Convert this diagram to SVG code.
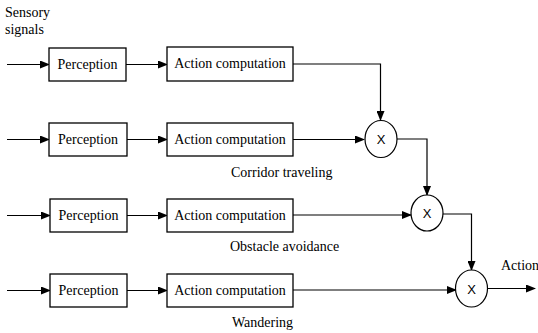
<svg xmlns="http://www.w3.org/2000/svg" width="538" height="333" viewBox="0 0 538 333">
<defs>
<marker id="ah" markerWidth="10" markerHeight="8" refX="9" refY="4" orient="auto" markerUnits="userSpaceOnUse">
<path d="M0,0 L10,4 L0,8 Z" fill="#000"/>
</marker>
<style>
.box{fill:#fff;stroke:#000;stroke-width:1.3}
.c{fill:#fff;stroke:#000;stroke-width:1.2}
.t{font-size:14px;fill:#000}
.x{font-family:'Liberation Sans','DejaVu Sans',sans-serif;font-size:13px;fill:#000;text-anchor:middle}
.m{text-anchor:middle}
.ln{fill:none;stroke:#000;stroke-width:1.2}
</style>
</defs>
<rect width="538" height="333" fill="#fff"/>
<g font-family="Liberation Serif, Times New Roman, serif">
<text class="t" x="5" y="17">Sensory</text>
<text class="t" x="5" y="34">signals</text>
</g>

<g id="connectors">
<path class="ln" d="M7,64.5 H49" marker-end="url(#ah)"/>
<path class="ln" d="M126,64.5 H167" marker-end="url(#ah)"/>
<path class="ln" d="M7,139.5 H49" marker-end="url(#ah)"/>
<path class="ln" d="M127,139.5 H167" marker-end="url(#ah)"/>
<path class="ln" d="M7,215.5 H50" marker-end="url(#ah)"/>
<path class="ln" d="M127,215.5 H167" marker-end="url(#ah)"/>
<path class="ln" d="M7,290.5 H50" marker-end="url(#ah)"/>
<path class="ln" d="M127,290.5 H167" marker-end="url(#ah)"/>
<path class="ln" d="M293,64 H380.5 V120" marker-end="url(#ah)"/>
<path class="ln" d="M293,139.5 H364" marker-end="url(#ah)"/>
<path class="ln" d="M397,139 H427 V195" marker-end="url(#ah)"/>
<path class="ln" d="M293,215 H411" marker-end="url(#ah)"/>
<path class="ln" d="M443,214 H471.5 V270" marker-end="url(#ah)"/>
<path class="ln" d="M293,290 H456" marker-end="url(#ah)"/>
<path class="ln" d="M487,288.5 H535" marker-end="url(#ah)"/>
</g>

<g font-family="Liberation Serif, Times New Roman, serif">
<g id="perception1"><rect class="box" x="49" y="48" width="77" height="33"/><text class="t m" x="87.5" y="69">Perception</text></g>
<g id="action1"><rect class="box" x="167" y="47" width="126" height="34"/><text class="t m" x="230" y="68">Action computation</text></g>
<g id="perception2"><rect class="box" x="49" y="123" width="78" height="33"/><text class="t m" x="88" y="144">Perception</text></g>
<g id="action2"><rect class="box" x="167" y="123" width="126" height="33"/><text class="t m" x="230" y="144">Action computation</text></g>
<g id="perception3"><rect class="box" x="50" y="199" width="77" height="33"/><text class="t m" x="88.5" y="220">Perception</text></g>
<g id="action3"><rect class="box" x="167" y="199" width="126" height="33"/><text class="t m" x="230" y="220">Action computation</text></g>
<g id="perception4"><rect class="box" x="50" y="274" width="77" height="33"/><text class="t m" x="88.5" y="295">Perception</text></g>
<g id="action4"><rect class="box" x="167" y="274" width="126" height="33"/><text class="t m" x="230" y="295">Action computation</text></g>
</g>

<g id="mult1"><ellipse class="c" cx="381" cy="139" rx="16" ry="18.5"/><text class="x" x="381" y="144">X</text></g>
<g id="mult2"><ellipse class="c" cx="427" cy="213" rx="16" ry="18"/><text class="x" x="427" y="218">X</text></g>
<g id="mult3"><ellipse class="c" cx="471.5" cy="288.5" rx="16" ry="18.5"/><text class="x" x="471.5" y="293.5">X</text></g>

<g font-family="Liberation Serif, Times New Roman, serif">
<text class="t" x="231" y="177">Corridor traveling</text>
<text class="t" x="230" y="251">Obstacle avoidance</text>
<text class="t" x="232" y="327">Wandering</text>
<text class="t" x="501" y="270">Action</text>
</g>
</svg>
